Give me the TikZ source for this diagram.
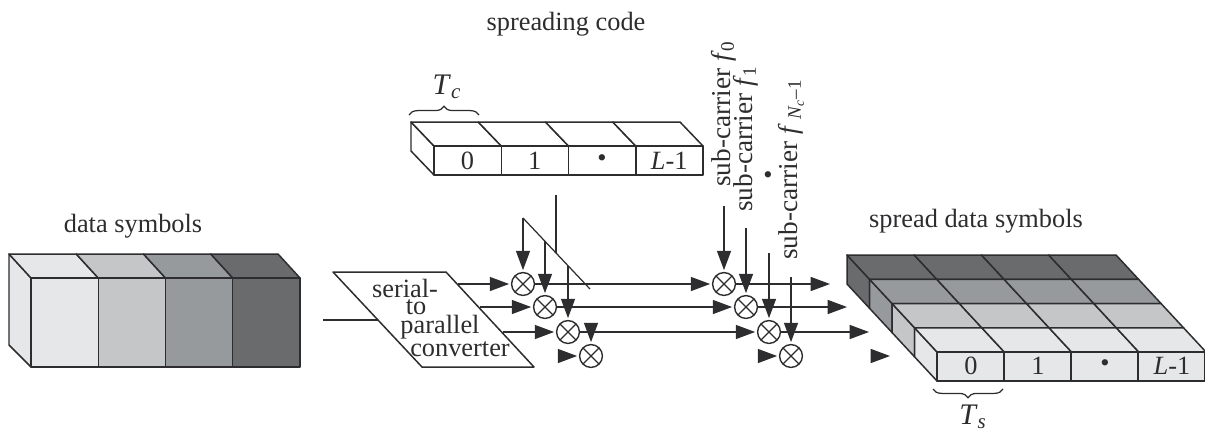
\documentclass[tikz,border=0pt]{standalone}
\usepackage{fontspec}
\setmainfont{Liberation Serif}
\usepackage{tikz}
\usetikzlibrary{arrows.meta, decorations.pathreplacing}
\definecolor{syma}{RGB}{230, 231, 232}
\definecolor{symb}{RGB}{197, 198, 200}
\definecolor{symc}{RGB}{151, 154, 156}
\definecolor{symd}{RGB}{106, 107, 109}
\definecolor{inkgray}{RGB}{45, 45, 47}
\tikzset{
    boxline/.style={draw=inkgray, line width=0.85pt, line join=round},
    sigline/.style={draw=inkgray, line width=0.7pt},
    sigarrow/.style={sigline, -{Triangle[length=11pt, width=8pt]}, shorten >=1pt},
    mixer/.style={circle, draw=inkgray, line width=0.8pt, fill=white, inner sep=0pt, minimum size=13pt,
        path picture={\draw[inkgray, line width=0.7pt] (path picture bounding box.north west) -- (path picture bounding box.south east)
            (path picture bounding box.north east) -- (path picture bounding box.south west);}},
    label/.style={text=inkgray, font=\fontsize{15}{17}\selectfont, inner sep=0pt},
    timelabel/.style={label, font=\fontsize{17}{19}\selectfont},
    sublabel/.style={label, font=\fontsize{15.5}{17}\selectfont, rotate=90, anchor=base west}
}
\newcommand{\ital}[1]{\textit{#1}}

\begin{document}
\begin{tikzpicture}[x=0.02cm, y=-0.02cm]
    \useasboundingbox (0,0) rectangle (1205,430);

    % Data symbols block
    \draw[boxline, fill=syma] (9,254) -- (31,278) -- (31,367) -- (9,345) -- cycle;
    \foreach \j/\col in {0/syma, 1/symb, 2/symc, 3/symd} {
        \draw[boxline, fill=\col] ({9+67.25*\j},254) -- ({9+67.25*(\j+1)},254) -- ({31+67.25*(\j+1)},278) -- ({31+67.25*\j},278) -- cycle;
        \draw[boxline, fill=\col] ({31+67.25*\j},278) rectangle ({31+67.25*(\j+1)},367);
    }
    \node[label] (datalabel) at (133,226) {data symbols};

    % Spreading code block
    \draw[boxline, fill=white] (411,122) -- (434,146) -- (434,175) -- (411,151) -- cycle;
    \foreach \j/\txt in {0/0, 1/1, 2/\textbullet, 3/\ital{L}-1} {
        \draw[boxline, fill=white] ({411+67.25*\j},122) -- ({411+67.25*(\j+1)},122) -- ({434+67.25*(\j+1)},146) -- ({434+67.25*\j},146) -- cycle;
        \draw[boxline, fill=white] ({434+67.25*\j},146) rectangle ({434+67.25*(\j+1)},175);
        \node[label] (chip\j) at ({467.5+67.25*\j},161) {\txt};
    }
    \draw[inkgray, line width=0.7pt, decorate, decoration={brace, amplitude=5pt}] (409,115) -- (479,115);
    \node[label] (codelabel) at (566,24) {spreading code};
    \node[timelabel] (tclabel) at (447,87) {\ital{T}\textsubscript{\ital{c}}};

    % Serial-to-parallel converter
    \draw[boxline] (333,272) -- (446,272) -- (534,367) -- (422,367) -- cycle;
    \node[label] (sptext1) at (405,288) {serial-};
    \node[label] (sptext2) at (416,307) {to};
    \node[label] (sptext3) at (440,327) {parallel};
    \node[label] (sptext4) at (460,349) {converter};
    \coordinate (spin) at (378,320);
    \coordinate (spstart) at (323,320);
    \draw[sigline, line width=0.85pt] (spstart) -- (spin);

    % Mixers and their signal lines
    \foreach \i/\y/\xa/\xb in {1/284/523/724, 2/307/545/746, 3/332/568/769, 4/356/591/791} {
        \node[mixer] (mixa\i) at (\xa,\y) {};
        \node[mixer] (mixb\i) at (\xb,\y) {};
    }
    \foreach \i/\y/\xs/\xe in {1/284/458/830, 2/307/480/847, 3/332/503/869} {
        \coordinate (spout\i) at (\xs,\y);
        \coordinate (lineend\i) at (\xe,\y);
        \draw[sigarrow] (spout\i) -- (mixa\i);
        \draw[sigarrow] (mixa\i) -- (mixb\i);
        \draw[sigarrow, shorten >=0pt] (mixb\i) -- (lineend\i);
    }
    % Row four only shows its arrow heads
    \coordinate (stuba) at (559,356);
    \coordinate (stubb) at (760,356);
    \coordinate (stubc) at (872,356);
    \coordinate (stubd) at (890,356);
    \coordinate (stube) at (591,323);
    \draw[sigarrow] (stuba) -- (mixa4);
    \draw[sigarrow] (stubb) -- (mixb4);
    \draw[sigarrow, shorten >=0pt] (stubc) -- (stubd);
    \draw[sigarrow] (stube) -- (mixa4);

    % Code tapped off a diagonal bus
    \coordinate (busa) at (523,218);
    \coordinate (busb) at (590,289);
    \coordinate (taptwo) at (545,241);
    \coordinate (tapthree) at (568,266);
    \coordinate (codeout) at (556,195);
    \coordinate (codein) at (556,253);
    \draw[sigline] (busa) -- (busb);
    \draw[sigline] (codeout) -- (codein);
    \draw[sigarrow] (busa) -- (mixa1);
    \draw[sigarrow] (taptwo) -- (mixa2);
    \draw[sigarrow] (tapthree) -- (mixa3);

    % Sub-carriers
    \foreach \i/\x/\y in {1/724/206, 2/746/228, 3/769/253, 4/791/277} {
        \coordinate (carrier\i) at (\x,\y);
        \draw[sigarrow] (carrier\i) -- (mixb\i);
    }
    \node[sublabel] (fzero) at (730,187) {sub-carrier \ital{f}\textsubscript{0}};
    \node[sublabel] (fone) at (752,212) {sub-carrier \ital{f}\textsubscript{1}};
    \node[label] (fdots) at (768,178) {\textbullet};
    \node[sublabel] (flast) at (797,260) {sub-carrier \ital{f}\,\textsubscript{\ital{N}\textsubscript{\ital{c}}--1}};

    % Spread data symbols block
    \foreach \r/\col in {0/symd, 1/symc, 2/symb, 3/syma} {
        \draw[boxline, fill=\col] ({847+22.5*\r},{255+24.25*\r}) -- ({847+22.5*(\r+1)},{255+24.25*(\r+1)}) -- ({847+22.5*(\r+1)},{284+24.25*(\r+1)}) -- ({847+22.5*\r},{284+24.25*\r}) -- cycle;
        \foreach \j in {0,1,2,3} {
            \draw[boxline, fill=\col] ({847+22.5*\r+67.25*\j},{255+24.25*\r}) -- ({847+22.5*\r+67.25*(\j+1)},{255+24.25*\r}) -- ({847+22.5*(\r+1)+67.25*(\j+1)},{255+24.25*(\r+1)}) -- ({847+22.5*(\r+1)+67.25*\j},{255+24.25*(\r+1)}) -- cycle;
        }
    }
    \foreach \j/\txt in {0/0, 1/1, 2/\textbullet, 3/\ital{L}-1} {
        \draw[boxline, fill=syma] ({937+67*\j},352) rectangle ({937+67*(\j+1)},381);
        \node[label] (spread\j) at ({971+67*\j},366) {\txt};
    }
    \draw[inkgray, line width=0.7pt, decorate, decoration={brace, mirror, amplitude=5pt}] (933,389) -- (1003,389);
    \node[label] (spreadlabel) at (976,221) {spread data symbols};
    \node[timelabel] (tslabel) at (973,417) {\ital{T}\textsubscript{\ital{s}}};
\end{tikzpicture}
\end{document}
